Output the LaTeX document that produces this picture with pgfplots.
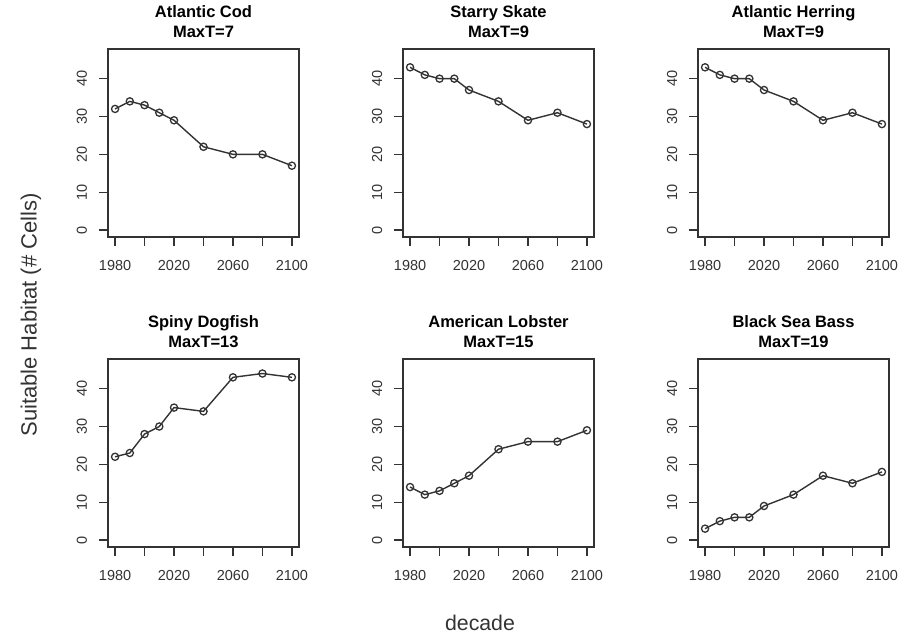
\documentclass[border=0pt]{standalone}
\usepackage{fontspec}
\setmainfont{Liberation Sans}
\usepackage{pgfplots}
\pgfplotsset{compat=1.18}
\definecolor{ink}{gray}{0.2}
\pgfplotsset{
 every axis title/.style={at={(0.5,1)}, anchor=south, inner sep=0pt, yshift=11pt,
   font=\fontsize{16.5}{20}\selectfont\bfseries, align=center, text=black},
 panel/.style={
  scale only axis, width=191pt, height=188pt,
  xmin=1975.2, xmax=2104.8, ymin=-1.84, ymax=47.84,
  xtick={1980,2000,...,2100}, xticklabels={1980,,2020,,2060,,2100},
  ytick={0,10,...,40},
  tick pos=left, tick align=outside, major tick length=9pt,
  axis line style={line width=1.2pt, ink},
  every tick/.style={line width=1.2pt, ink},
  /pgf/number format/assume math mode=true,
  tick label style={font=\fontsize{14.5}{16}\selectfont, text=ink},
  xticklabel style={anchor=north, inner sep=0pt},
  yticklabel style={rotate=90, anchor=base, inner sep=0pt, yshift=12pt},
  xticklabel shift=14pt,
  yticklabel shift=0pt,
  clip=false,
 },
 ser/.style={line width=1.4pt, ink, mark=o, mark size=3.6pt, mark options={line width=1.3pt, ink}},
}
\begin{document}
\begin{tikzpicture}
\useasboundingbox (0,0) rectangle (913pt,637pt);
% Row 1
\begin{axis}[panel, at={(108pt,400pt)}, anchor=south west, title={Atlantic Cod\\MaxT=7}]
\addplot[ser] coordinates {(1980,32)(1990,34)(2000,33)(2010,31)(2020,29)(2040,22)(2060,20)(2080,20)(2100,17)};
\end{axis}
\begin{axis}[panel, at={(403pt,400pt)}, anchor=south west, title={Starry Skate\\MaxT=9}]
\addplot[ser] coordinates {(1980,43)(1990,41)(2000,40)(2010,40)(2020,37)(2040,34)(2060,29)(2080,31)(2100,28)};
\end{axis}
\begin{axis}[panel, at={(698pt,400pt)}, anchor=south west, title={Atlantic Herring\\MaxT=9}]
\addplot[ser] coordinates {(1980,43)(1990,41)(2000,40)(2010,40)(2020,37)(2040,34)(2060,29)(2080,31)(2100,28)};
\end{axis}
% Row 2
\begin{axis}[panel, at={(108pt,90pt)}, anchor=south west, title={Spiny Dogfish\\MaxT=13}]
\addplot[ser] coordinates {(1980,22)(1990,23)(2000,28)(2010,30)(2020,35)(2040,34)(2060,43)(2080,44)(2100,43)};
\end{axis}
\begin{axis}[panel, at={(403pt,90pt)}, anchor=south west, title={American Lobster\\MaxT=15}]
\addplot[ser] coordinates {(1980,14)(1990,12)(2000,13)(2010,15)(2020,17)(2040,24)(2060,26)(2080,26)(2100,29)};
\end{axis}
\begin{axis}[panel, at={(698pt,90pt)}, anchor=south west, title={Black Sea Bass\\MaxT=19}]
\addplot[ser] coordinates {(1980,3)(1990,5)(2000,6)(2010,6)(2020,9)(2040,12)(2060,17)(2080,15)(2100,18)};
\end{axis}
\node[rotate=90, font=\fontsize{22}{26}\selectfont, text=ink, inner sep=0pt] at (31pt,322pt) {Suitable Habitat (\# Cells)};
\node[anchor=base, font=\fontsize{21.3}{26}\selectfont, text=ink, inner sep=0pt] at (480pt,6pt) {decade};
\end{tikzpicture}
\end{document}
